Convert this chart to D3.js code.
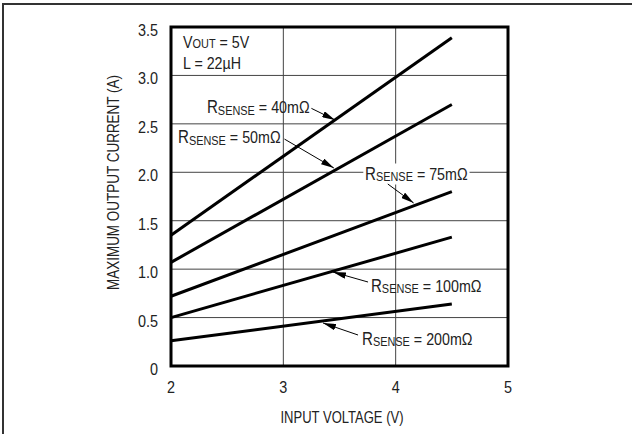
<!DOCTYPE html>
<html><head><meta charset="utf-8">
<script src="https://cdn.jsdelivr.net/npm/d3@7"></script>
<style>
html,body{margin:0;padding:0;background:#fff;}
text{font-family:"Liberation Sans Narrow","Arial Narrow","Liberation Sans",Arial,sans-serif;fill:#222;}
</style></head>
<body><svg id="c" width="632" height="434"></svg>
<script>
// ---- data ----
const inputVoltage = [2, 4.5];
const rsense40  = [1.35, 3.39];
const rsense50  = [1.07, 2.70];
const rsense75  = [0.72, 1.80];
const rsense100 = [0.50, 1.33];
const rsense200 = [0.26, 0.64];
const seriesNames = ["40", "50", "75", "100", "200"];
const xTicks = [2, 3, 4, 5];
const yTicks = [0, 0.5, 1.0, 1.5, 2.0, 2.5, 3.0, 3.5];
const yTickLabels = ["0", "0.5", "1.0", "1.5", "2.0", "2.5", "3.0", "3.5"];
const xTitle = "INPUT VOLTAGE (V)";
const yTitle = "MAXIMUM OUTPUT CURRENT (A)";

const series = [rsense40, rsense50, rsense75, rsense100, rsense200];

// annotation anchors in data units: label (v,a), arrow from -> to
const annotations = [
  {name:"40",  lx:2.32, ly:2.677, ax:[3.25,2.66], at:[3.46,2.54], box:false},
  {name:"50",  lx:2.062,ly:2.367, ax:[3.01,2.343],at:[3.45,2.044],box:false},
  {name:"75",  lx:3.727,ly:1.99,  ax:[3.93,1.879],at:[4.16,1.683],box:true},
  {name:"100", lx:3.78, ly:0.836, ax:[3.754,0.867],at:[3.442,0.97],box:false},
  {name:"200", lx:3.70, ly:0.289, ax:[3.665,0.32], at:[3.353,0.444],box:false}
];

const svg = d3.select("#c");
const x = d3.scaleLinear().domain([2,5]).range([171,508]);
const y = d3.scaleLinear().domain([0,3.5]).range([366,27]);
const SX = 0.84;

function ctext(parent, px, py, fs, sx, anchor){
  return parent.append("text")
    .attr("transform",`translate(${px},${py}) scale(${sx},1)`)
    .attr("font-size",fs).attr("text-anchor",anchor||"start");
}

// outer frame
svg.append("rect").attr("x",3).attr("y",4).attr("width",700).attr("height",600)
  .attr("fill","none").attr("stroke","#333").attr("stroke-width",2);

// grid
const g = svg.append("g");
g.selectAll(".vg").data(xTicks.slice(1,-1)).enter().append("line")
  .attr("x1",d=>x(d)).attr("x2",d=>x(d)).attr("y1",y(0)).attr("y2",y(3.5))
  .attr("stroke","#444").attr("stroke-width",1);
g.selectAll(".hg").data(yTicks.slice(1,-1)).enter().append("line")
  .attr("y1",d=>y(d)).attr("y2",d=>y(d)).attr("x1",x(2)).attr("x2",x(5))
  .attr("stroke","#444").attr("stroke-width",1);

// tick labels
xTicks.forEach(d=>{ ctext(svg, x(d), y(0)+27, 16, 0.9, "middle").text(d); });
yTicks.forEach((d,i)=>{ ctext(svg, x(2)-13, y(d)+9, 16, 0.9, "end").text(yTickLabels[i]); });

// axis titles
svg.append("text").attr("x",342).attr("y",423).attr("text-anchor","middle")
  .attr("font-size",16).attr("textLength",123).attr("lengthAdjust","spacingAndGlyphs").text(xTitle);
svg.append("text").attr("transform","translate(118.5,182.5) rotate(-90)").attr("text-anchor","middle")
  .attr("font-size",16).attr("textLength",215).attr("lengthAdjust","spacingAndGlyphs").text(yTitle);

// lines
const line = d3.line().x((d,i)=>x(inputVoltage[i])).y(d=>y(d));
svg.selectAll(".ln").data(series).enter().append("path")
  .attr("d",d=>line(d)).attr("fill","none").attr("stroke","#000").attr("stroke-width",3);

// VOUT / L annotation
const t1 = ctext(svg, x(2.107), y(3.348)+6, 17, SX);
t1.append("tspan").text("V");
t1.append("tspan").attr("font-size",13).text("OUT");
t1.append("tspan").text(" = 5V");
ctext(svg, x(2.107), y(3.13)+6, 17, SX).text("L = 22\u00B5H");

// arrow marker
svg.append("defs").append("marker").attr("id","ah").attr("viewBox","0 0 12 6")
  .attr("refX",12).attr("refY",3).attr("markerWidth",13).attr("markerHeight",6.5)
  .attr("markerUnits","userSpaceOnUse").attr("orient","auto")
  .append("path").attr("d","M0,0L12,3L0,6Z").attr("fill","#000");

annotations.forEach(a=>{
  const grp = svg.append("g");
  const t = ctext(grp, x(a.lx), y(a.ly)+6.5, 18, SX);
  t.append("tspan").text("R");
  t.append("tspan").attr("font-size",13).attr("dy",1.5).text("SENSE");
  t.append("tspan").attr("font-size",17).attr("dy",-1.5).text(" = " + a.name + "m\u03A9");
  if(a.box){
    const bb = t.node().getBBox();
    grp.insert("rect","text").attr("transform",`translate(${x(a.lx)},${y(a.ly)+6.5}) scale(${SX},1)`)
      .attr("x",bb.x-2).attr("y",bb.y).attr("width",bb.width+4).attr("height",bb.height).attr("fill","#fff");
  }
  svg.append("line").attr("x1",x(a.ax[0])).attr("y1",y(a.ax[1]))
    .attr("x2",x(a.at[0])).attr("y2",y(a.at[1]))
    .attr("stroke","#000").attr("stroke-width",1).attr("marker-end","url(#ah)");
});

// plot border
svg.append("rect").attr("x",x(2)).attr("y",y(3.5)).attr("width",x(5)-x(2)).attr("height",y(0)-y(3.5))
  .attr("fill","none").attr("stroke","#000").attr("stroke-width",3);
</script></body></html>
